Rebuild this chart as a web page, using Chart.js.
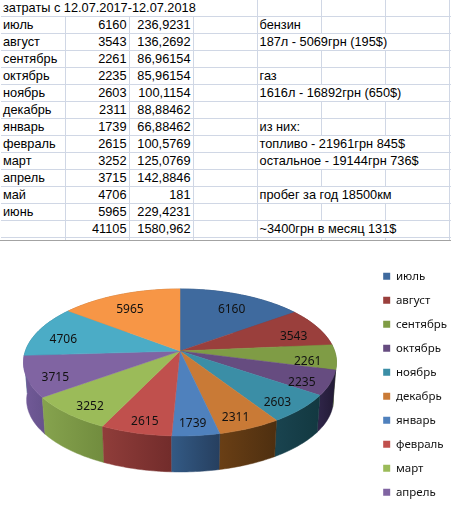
<!DOCTYPE html>
<html lang="ru"><head><meta charset="utf-8">
<style>
html,body{margin:0;padding:0;background:#fff;overflow:hidden;width:451px;height:506px}
#t{position:absolute;left:1px;top:0;border-collapse:collapse;table-layout:fixed;width:451px;font:12.75px "Liberation Sans",Arial,sans-serif;color:#000}
#t td{box-sizing:border-box;padding:0 2px 0 2px;height:17px;line-height:16px;border:none;border-right:1px solid #d0d7e5;border-bottom:1px solid #d0d7e5;white-space:nowrap;overflow:visible}
#t td.n{text-align:right}
#t tr.h td{height:16px;line-height:15px}
#t tr.e td{height:4px;line-height:1px;border-bottom:none;font-size:1px}
#g{position:absolute;left:0;top:240px;width:451px;height:1px;background:#a3a3a3}
#c{position:absolute;left:0;top:240px}
</style></head><body>
<table id="t"><colgroup><col style="width:64px"><col style="width:64px"><col style="width:64px"><col style="width:64px"><col style="width:64px"><col style="width:64px"><col style="width:64px"><col style="width:3px"></colgroup></table><div id="g"></div>
<canvas id="c" width="451" height="300"></canvas>
<script src="https://cdn.jsdelivr.net/npm/chart.js@4"></script>
<script>
const title = "затраты с 12.07.2017-12.07.2018";
const categories = ["июль","август","сентябрь","октябрь","ноябрь","декабрь","январь","февраль","март","апрель","май","июнь"];
const costs = [6160,3543,2261,2235,2603,2311,1739,2615,3252,3715,4706,5965];
const perUsd = ["236,9231","136,2692","86,96154","85,96154","100,1154","88,88462","66,88462","100,5769","125,0769","142,8846","181","229,4231"];
const totals = ["41105","1580,962"];
const notes = ["бензин","187л - 5069грн (195$)","","газ","1616л - 16892грн (650$)","","из них:","топливо - 21961грн 845$","остальное - 19144грн 736$","","пробег за год 18500км","","~3400грн в месяц 131$"];
const wideNotes = [false,true,false,false,true,false,false,true,true,false,true,false,true];
const legendShown = 10;
const topColors = ["#3f6a9e","#9a3f3c","#7f9c45","#664c80","#3b8ea6","#c97a36","#4f81bd","#c0504d","#9bbb59","#8064a2","#4bacc6","#f79646"];
const wallLeft  = ["#2c4a70","#6e2d2b","#5a7030","#30264a","#1a4450","#6a3f15","#335a85","#903d3a","#86a34e","#725a98","#2f7a8e","#b06a30"];
const wallRight = ["#2c4a70","#6e2d2b","#5a7030","#221a35","#123840","#4e2f10","#263f5f","#722c2b","#718c3e","#66528c","#2f7a8e","#b06a30"];

// spreadsheet
const tb = document.getElementById("t");
function cell(tr,text,cls,span){const td=document.createElement("td");td.textContent=text;if(cls)td.className=cls;if(span)td.colSpan=span;tr.appendChild(td);}
{
  const r=document.createElement("tr");r.className="h";
  cell(r,title,"",4);cell(r,"");cell(r,"");cell(r,"");cell(r,"");tb.appendChild(r);
  for(let i=0;i<=categories.length;i++){
    const tr=document.createElement("tr");
    cell(tr,i<categories.length?categories[i]:"");
    cell(tr,i<categories.length?String(costs[i]):totals[0],"n");
    cell(tr,i<categories.length?perUsd[i]:totals[1],"n");
    cell(tr,"");
    if(wideNotes[i]){cell(tr,notes[i],"",3);}else{cell(tr,notes[i]);cell(tr,"");cell(tr,"");}
    cell(tr,"");
    tb.appendChild(tr);
  }
  const e=document.createElement("tr");e.className="e";
  for(let k=0;k<8;k++)cell(e,"");tb.appendChild(e);
}

// perspective projection of the library's arc angles
const view={x:180,y:111,a:154.6,b:71.7,p:0.156,dropY:37.7,shrink:0.98,labelR:0.82,labelDy:5.5};
function proj(ang,r,low){
  const th=ang+Math.PI/2,u=Math.sin(th)*r,v=-Math.cos(th)*r,d=1-view.p*v;
  const s=low?view.shrink:1,oy=low?view.dropY:0;
  return [view.x+view.a*s*u/d, view.y+oy+view.b*s*v/d];
}
const tilt={id:"tilt",beforeDatasetsDraw(chart){
  const ctx=chart.ctx,arcs=chart.getDatasetMeta(0).data;
  ctx.save();
  const step=Math.PI/180;
  const depth=a=>Math.sin((a.startAngle+a.endAngle)/2);
  const order=arcs.map((a,i)=>i).sort((p,q)=>depth(arcs[p])-depth(arcs[q]));
  order.forEach(i=>{
    const arc=arcs[i];
    const s=arc.startAngle,e=arc.endAngle,n=Math.max(2,Math.ceil((e-s)/step));
    const top=[],low=[];
    for(let k=0;k<=n;k++){const a=s+(e-s)*k/n;top.push(proj(a,1,false));low.push(proj(a,1,true));}
    const xs=top.concat(low).map(q=>q[0]);
    const g=ctx.createLinearGradient(Math.min(...xs),0,Math.max(...xs),0);
    g.addColorStop(0,wallLeft[i]);g.addColorStop(1,wallRight[i]);
    ctx.fillStyle=g;ctx.strokeStyle=g;ctx.lineWidth=0.5;
    ctx.beginPath();
    top.forEach((q,k)=>k?ctx.lineTo(q[0],q[1]):ctx.moveTo(q[0],q[1]));
    low.reverse().forEach(q=>ctx.lineTo(q[0],q[1]));
    ctx.closePath();ctx.fill();ctx.stroke();
  });
  arcs.forEach((arc,i)=>{
    const s=arc.startAngle,e=arc.endAngle,n=Math.max(2,Math.ceil((e-s)/step));
    ctx.fillStyle=ctx.strokeStyle=arc.options.backgroundColor;ctx.lineWidth=0.5;
    ctx.beginPath();ctx.moveTo(view.x,view.y);
    for(let k=0;k<=n;k++){const q=proj(s+(e-s)*k/n,1,false);ctx.lineTo(q[0],q[1]);}
    ctx.closePath();ctx.fill();ctx.stroke();
  });
  ctx.fillStyle="#111";ctx.font='12px "Noto Sans"';ctx.textAlign="center";ctx.textBaseline="middle";
  arcs.forEach((arc,i)=>{
    const q=proj((arc.startAngle+arc.endAngle)/2,view.labelR,false);
    ctx.fillText(String(costs[i]),q[0],q[1]+view.labelDy);
  });
  ctx.restore();
  return false;
}};

new Chart(document.getElementById("c"),{
  type:"pie",
  data:{labels:categories,datasets:[{data:costs,backgroundColor:topColors,borderWidth:0}]},
  options:{
    responsive:false,animation:false,
    layout:{padding:{top:18,right:-6,bottom:0,left:0}},
    plugins:{
      tooltip:{enabled:false},
      legend:{position:"right",align:"start",
        labels:{boxWidth:7,boxHeight:7,padding:12.5,color:"#111",font:{family:'"Noto Sans"',size:11.5},
          filter:(item,data)=>item.index<legendShown}}
    }
  },
  plugins:[tilt]
});
</script>
</body></html>
